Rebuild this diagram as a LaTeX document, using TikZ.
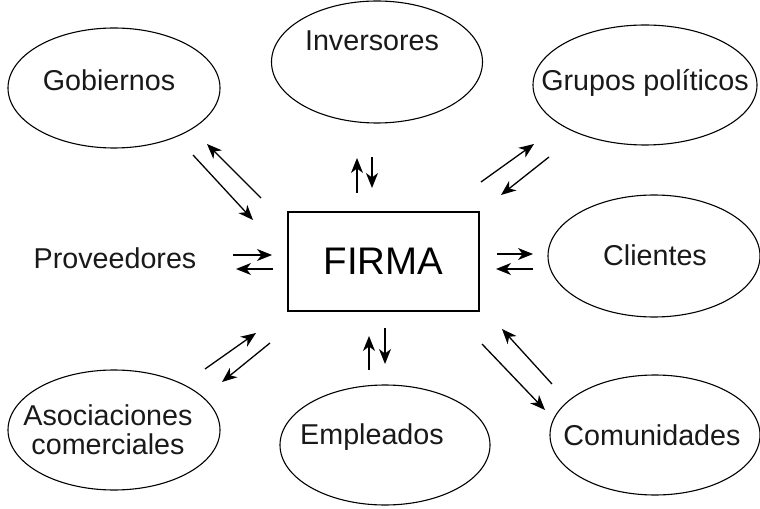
\documentclass[tikz,border=0pt]{standalone}
\usepackage{fontspec}
\setmainfont{Liberation Sans}
\usetikzlibrary{shapes.geometric,arrows.meta}
\begin{document}
\begin{tikzpicture}[x=1bp,y=-1bp,
  lbl/.style={font=\fontsize{28.8}{33}\selectfont, text=black!90, align=center},
  oval/.style={ellipse, draw, line width=1.1bp, inner sep=0pt, lbl},
  flow/.style={line width=1.3bp, -{Stealth[length=15bp,width=12bp,inset=4.5bp]}}]
\useasboundingbox (0,0) rectangle (760,509);
% centre box
\node[draw, line width=1.1bp, minimum width=191bp, minimum height=99bp, font=\fontsize{38.6}{44}\selectfont] (firma) at (383.5,261.5) {FIRMA};
% ellipses
\node[oval, minimum width=212bp, minimum height=120bp] (gob) at (114,88) {};
\node[lbl] (gobt) at (109,80) {Gobiernos};
\node[oval, minimum width=211bp, minimum height=122bp] (inv) at (377,62) {};
\node[lbl] (invt) at (372,41) {Inversores};
\node[oval, minimum width=224bp, minimum height=120bp] (gru) at (645,85) {};
\node[lbl] (grut) at (645,83) {Grupos políticos};
\node[oval, minimum width=212bp, minimum height=122bp] (cli) at (654,256) {};
\node[lbl] (clit) at (655,255) {Clientes};
\node[oval, minimum width=210bp, minimum height=120bp] (com) at (655,435) {};
\node[lbl] (comt) at (652,435) {Comunidades};
\node[oval, minimum width=210bp, minimum height=120bp] (emp) at (385,445) {};
\node[lbl] (empt) at (372,437) {Empleados};
\node[oval, minimum width=212bp, minimum height=120bp] (aso) at (114,430) {};
\node[lbl] (asot) at (108,430) {Asociaciones\\[-4bp]comerciales};
\node[lbl] (pro) at (115,258) {Proveedores};
% arrow end points
\coordinate (g1) at (261,198); \coordinate (g2) at (207,144);
\coordinate (g3) at (193,155); \coordinate (g4) at (253,220);
\coordinate (i1) at (357,193); \coordinate (i2) at (357,158);
\coordinate (i3) at (372,157); \coordinate (i4) at (372,188);
\coordinate (p1) at (481,182); \coordinate (p2) at (534,144);
\coordinate (p3) at (549,157); \coordinate (p4) at (501,195);
\coordinate (v1) at (233,255); \coordinate (v2) at (272,255);
\coordinate (v3) at (273,269); \coordinate (v4) at (236,269);
\coordinate (c1) at (497,254); \coordinate (c2) at (533,254);
\coordinate (c3) at (533,269); \coordinate (c4) at (496,269);
\coordinate (a1) at (205,369); \coordinate (a2) at (256,333);
\coordinate (a3) at (270,343); \coordinate (a4) at (222,382);
\coordinate (e1) at (369,370); \coordinate (e2) at (369,336);
\coordinate (e3) at (385,328); \coordinate (e4) at (385,364);
\coordinate (m1) at (552,384); \coordinate (m2) at (502,329);
\coordinate (m3) at (482,344); \coordinate (m4) at (545,410);
% arrows
\draw[flow] (g1) -- (g2); \draw[flow] (g3) -- (g4);
\draw[flow] (i1) -- (i2); \draw[flow] (i3) -- (i4);
\draw[flow] (p1) -- (p2); \draw[flow] (p3) -- (p4);
\draw[flow] (v1) -- (v2); \draw[flow] (v3) -- (v4);
\draw[flow] (c1) -- (c2); \draw[flow] (c3) -- (c4);
\draw[flow] (a1) -- (a2); \draw[flow] (a3) -- (a4);
\draw[flow] (e1) -- (e2); \draw[flow] (e3) -- (e4);
\draw[flow] (m1) -- (m2); \draw[flow] (m3) -- (m4);
\end{tikzpicture}
\end{document}
